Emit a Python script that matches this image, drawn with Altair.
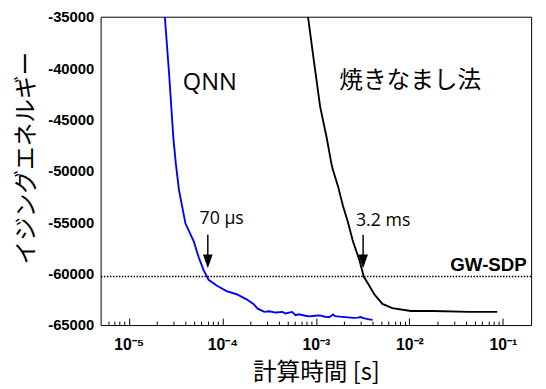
import altair as alt
import pandas as pd

# ---------------- data ----------------
qnn_t = [2.43e-5, 2.70e-5, 3.00e-5, 3.19e-5, 3.44e-5, 4.04e-5, 4.95e-5, 5.59e-5,
         6.31e-5, 7.13e-5, 8.71e-5, 1.11e-4, 1.42e-4, 1.80e-4, 2.15e-4, 2.39e-4,
         2.81e-4, 3.17e-4, 3.73e-4, 4.39e-4, 4.75e-4, 5.58e-4, 6.05e-4, 6.60e-4,
         7.71e-4, 8.50e-4, 9.84e-4, 1.10e-3, 1.25e-3, 1.40e-3, 1.53e-3, 1.60e-3,
         1.80e-3, 2.20e-3, 2.50e-3, 2.81e-3, 3.00e-3, 3.31e-3, 3.60e-3, 4.04e-3]
qnn_E = [-35000, -40594, -46844, -49344, -51844, -55125, -56844, -58406,
         -59656, -60594, -61156, -61688, -62000, -62469, -62938, -63406,
         -63719, -63656, -63781, -63719, -63875, -63719, -64031, -63950,
         -64094, -64150, -64094, -64060, -64188, -64220, -63969, -64125,
         -64180, -64250, -64300, -64281, -64220, -64344, -64420, -64500]

sa_t = [8.24e-4, 9.44e-4, 1.11e-3, 1.31e-3, 1.47e-3, 1.53e-3, 1.73e-3, 1.95e-3,
        2.20e-3, 2.49e-3, 2.93e-3, 3.25e-3, 3.58e-3, 4.21e-3, 5.15e-3, 6.56e-3,
        1.03e-2, 1.80e-2, 4.38e-2, 8.71e-2]
sa_E = [-35000, -39031, -43719, -46844, -49344, -49969, -51531, -53406,
        -54969, -56844, -58719, -60281, -60906, -62000, -62938, -63344,
        -63625, -63625, -63719, -63719]

series_names = ["QNN", "焼きなまし法"]
series_colors = ["#0000ff", "#000000"]

gw_sdp_value = -60280
gw_sdp_label = "GW-SDP"

x_domain = [5e-6, 0.2]
y_domain = [-65000, -35000]
y_tick_values = [-65000, -60000, -55000, -50000, -45000, -40000, -35000]
x_label_values = [1e-5, 1e-4, 1e-3, 1e-2, 1e-1]
x_label_texts = ["10⁻⁵", "10⁻⁴", "10⁻³", "10⁻²", "10⁻¹"]
x_tick_values = [6e-6, 7e-6, 8e-6, 9e-6,
                 1e-5, 2e-5, 3e-5, 4e-5, 5e-5, 6e-5, 7e-5, 8e-5, 9e-5,
                 1e-4, 2e-4, 3e-4, 4e-4, 5e-4, 6e-4, 7e-4, 8e-4, 9e-4,
                 1e-3, 2e-3, 3e-3, 4e-3, 5e-3, 6e-3, 7e-3, 8e-3, 9e-3,
                 1e-2, 2e-2, 3e-2, 4e-2, 5e-2, 6e-2, 7e-2, 8e-2, 9e-2,
                 1e-1]

arrow_t = [7.0e-5, 3.2e-3]
arrow_top = [-56200, -56200]
arrow_head = [-58800, -58800]

series_text = ["QNN", "焼きなまし法"]
series_text_t = [7.35e-5, 1.02e-2]
series_text_E = [-41469, -41281]

time_text = ["70 μs", "3.2 ms"]
time_text_t = [9.84e-5, 5.24e-3]
time_text_E = [-54688, -54875]

gw_text_t = [0.18]
gw_text_E = [-59188]

# ---------------- tables ----------------
df_lines = pd.DataFrame({
    "t": qnn_t + sa_t,
    "E": qnn_E + sa_E,
    "series": [series_names[0]] * len(qnn_t) + [series_names[1]] * len(sa_t),
})
df_arrows = pd.DataFrame({"t": arrow_t, "top": arrow_top, "head": arrow_head})
df_series_text = pd.DataFrame({"label": series_text, "t": series_text_t, "E": series_text_E})
df_time_text = pd.DataFrame({"label": time_text, "t": time_text_t, "E": time_text_E})
df_gw_text = pd.DataFrame({"label": [gw_sdp_label], "t": gw_text_t, "E": gw_text_E})
df_gw = pd.DataFrame({"E": [gw_sdp_value]})

W, H = 437, 313
xscale = alt.Scale(type="log", domain=x_domain, nice=False)
yscale = alt.Scale(domain=y_domain, nice=False, zero=False)

label_expr = " : ".join(
    f"datum.value < {v * 3:g} ? '{s}'" for v, s in zip(x_label_values[:-1], x_label_texts[:-1])
) + f" : '{x_label_texts[-1]}'"

x_main_axis = alt.Axis(
    values=x_label_values, labelExpr=label_expr, ticks=False, tickSize=0, domain=False,
    grid=False, labelFont="Liberation Sans", labelFontWeight="bold", labelFontSize=16,
    labelColor="black", labelPadding=12, labelFlush=False,
    title="計算時間 [s]", titleFont="Noto Sans CJK JP", titleFontSize=24,
    titleFontWeight="normal", titleColor="black", titlePadding=8,
)
y_main_axis = alt.Axis(
    values=y_tick_values, labelExpr="'' + datum.value", ticks=False, tickSize=0,
    domain=False, grid=False, labelFont="Liberation Sans", labelFontWeight="bold",
    labelFontSize=15, labelColor="black", labelPadding=7,
    title="イジングエネルギー", titleFont="Noto Sans CJK JP", titleFontSize=24,
    titleFontWeight="normal", titleColor="black", titlePadding=9, titleY=143,
)
major_test = "abs(log(datum.value)/LN10 - round(log(datum.value)/LN10)) < 0.001"
x_tick_axis = alt.Axis(
    orient="top", offset=-H, values=x_tick_values, labels=False, domain=False,
    grid=False, title=None, tickColor="black", tickWidth=1,
    tickSize={"condition": {"test": major_test, "value": 7}, "value": 4},
)

lines = alt.Chart(df_lines).mark_line(strokeWidth=1.9, clip=True).encode(
    x=alt.X("t:Q", scale=xscale, axis=x_main_axis),
    y=alt.Y("E:Q", scale=yscale, axis=y_main_axis),
    color=alt.Color("series:N", scale=alt.Scale(domain=series_names, range=series_colors),
                    legend=None),
)

gw_rule = alt.Chart(df_gw).mark_rule(color="black", strokeWidth=1.5, strokeDash=[1.5, 1.5]).encode(
    y=alt.Y("E:Q", scale=yscale),
)

arrow_shaft = alt.Chart(df_arrows).mark_rule(color="black", strokeWidth=1.5).encode(
    x=alt.X("t:Q", scale=xscale, axis=x_tick_axis),
    y=alt.Y("top:Q", scale=yscale),
    y2="head:Q",
)
arrow_tip = alt.Chart(df_arrows).mark_point(
    shape="M-0.7,-1L0.7,-1L0,1Z", size=196, filled=True, color="black", opacity=1, strokeWidth=0
).encode(
    x=alt.X("t:Q", scale=xscale, axis=None),
    y=alt.Y("head:Q", scale=yscale),
)

series_labels = alt.Chart(df_series_text).mark_text(
    font="Open Sans, Noto Sans CJK JP", fontSize=24, color="black", align="center", baseline="middle"
).encode(
    x=alt.X("t:Q", scale=xscale, axis=None),
    y=alt.Y("E:Q", scale=yscale),
    text="label:N",
)
time_labels = alt.Chart(df_time_text).mark_text(
    font="Open Sans", fontSize=18, color="black", align="center", baseline="middle"
).encode(
    x=alt.X("t:Q", scale=xscale, axis=None),
    y=alt.Y("E:Q", scale=yscale),
    text="label:N",
)
gw_label = alt.Chart(df_gw_text).mark_text(
    font="Liberation Sans", fontSize=19, fontWeight="bold", color="black", align="right",
    baseline="middle"
).encode(
    x=alt.X("t:Q", scale=xscale, axis=None),
    y=alt.Y("E:Q", scale=yscale),
    text="label:N",
)

chart = alt.layer(
    lines, gw_rule, arrow_shaft, arrow_tip, series_labels, time_labels, gw_label
).resolve_scale(x="shared", y="shared").resolve_axis(x="independent").properties(
    width=W, height=H,
    background="white",
    autosize=alt.AutoSizeParams(type="none"),
    padding={"left": 94, "top": 6, "right": 7, "bottom": 60},
).configure_view(stroke="black", strokeWidth=1)

chart.save("out.html", embed_options={"renderer": "svg", "actions": False})
